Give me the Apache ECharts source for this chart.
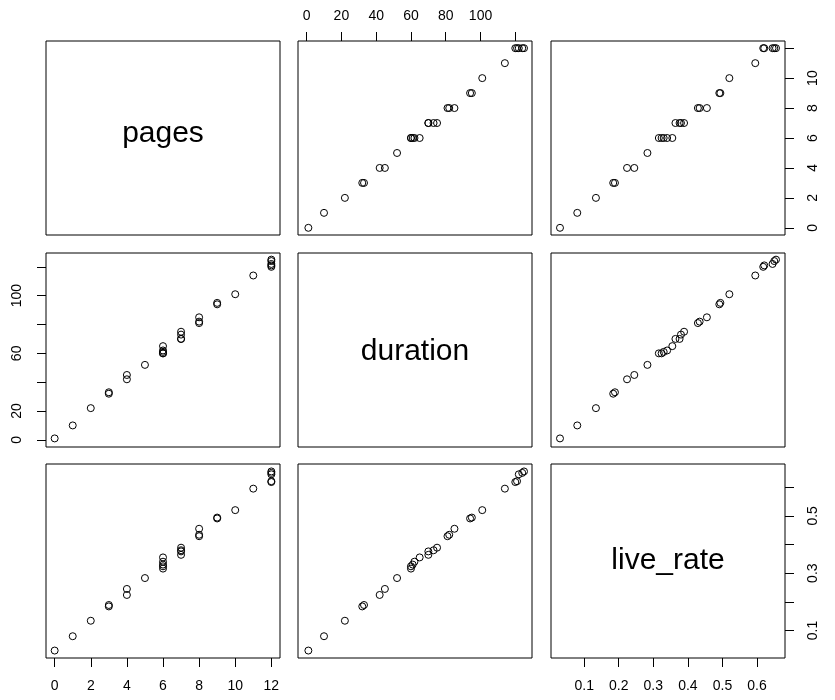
<!DOCTYPE html>
<html><head><meta charset="utf-8">
<script src="https://cdn.jsdelivr.net/npm/echarts@6/dist/echarts.min.js"></script>
<style>html,body{margin:0;padding:0;background:#fff}#c{width:835px;height:700px}</style>
</head><body><div id="c"></div>
<script>
// ---- data ----
const varNames = ['pages', 'duration', 'live_rate'];
const pages    = [0, 1, 2, 3, 3, 4, 4, 5, 6, 6, 6, 6, 6, 7, 7, 7, 7, 8, 8, 8, 9, 9, 10, 11, 12, 12, 12, 12, 12];
const duration = [1, 10, 22, 32, 33, 42, 45, 52, 60, 60, 61, 62, 65, 70, 70, 73, 75, 81, 82, 85, 94, 95, 101, 114, 120, 121, 122, 124, 125];
const liveRate = [0.030, 0.080, 0.134, 0.184, 0.189, 0.224, 0.245, 0.283, 0.316, 0.324, 0.330, 0.340, 0.355, 0.364, 0.376, 0.380, 0.389, 0.429, 0.434, 0.455, 0.491, 0.494, 0.520, 0.595, 0.618, 0.621, 0.645, 0.650, 0.655];

// tick values / tick labels
const pagesTicks = [0, 2, 4, 6, 8, 10, 12];
const durationTicks = [0, 20, 40, 60, 80, 100, 120];
const liveTicks = [0.1, 0.2, 0.3, 0.4, 0.5, 0.6];
const pagesBottomLabels = [0, 2, 4, 6, 8, 10, 12];
const pagesRightLabels = [0, 2, 4, 6, 8, 10];
const durationTopLabels = [0, 20, 40, 60, 80, 100];
const durationLeftLabels = [0, 20, 60, 100];
const liveBottomLabels = [0.1, 0.2, 0.3, 0.4, 0.5, 0.6];
const liveRightLabels = [0.1, 0.3, 0.5];

// ---- layout ----
const vars = [pages, duration, liveRate];
const ticks = [pagesTicks, durationTicks, liveTicks];
const ranges = [[-0.48, 12.48], [-4.96, 129.6], [0.004, 0.681]];
const gLeft = [46, 298, 551], gTop = [41, 253, 464], gW = 234, gH = 194;
const FONT = "'Liberation Sans', Arial, Helvetica, sans-serif";
const diagOffset = [-4.3, 1.8, -0.5];

const grids = [], xAxes = [], yAxes = [], series = [], graphics = [];
function axisCfg(gi, range, pos, tickV, labelV, isY, margin) {
  const shown = !!pos;
  const a = {
    gridIndex: gi, type: 'value', min: range[0], max: range[1],
    splitLine: { show: false },
    axisLine: { show: false, onZero: false },
    axisTick: { show: shown, length: 9, lineStyle: { color: '#000', width: 1 }, customValues: tickV },
    axisLabel: {
      show: shown, customValues: labelV || [], color: '#000', fontSize: 14, fontFamily: FONT,
      margin: margin || 0, rotate: isY ? 90 : 0, formatter: v => String(v)
    }
  };
  if (pos) a.position = pos;
  return a;
}
for (let i = 0; i < 3; i++) {
  for (let j = 0; j < 3; j++) {
    const k = i * 3 + j;
    grids.push({ left: gLeft[j], top: gTop[i], width: gW, height: gH, show: true,
      borderColor: '#000', borderWidth: 1, backgroundColor: 'transparent' });
    let xPos = null, xLab = null, xm = 0;
    if (i === 2 && j === 0) { xPos = 'bottom'; xLab = pagesBottomLabels; xm = 21; }
    if (i === 2 && j === 2) { xPos = 'bottom'; xLab = liveBottomLabels; xm = 21; }
    if (i === 0 && j === 1) { xPos = 'top'; xLab = durationTopLabels; xm = 18; }
    xAxes.push(axisCfg(k, ranges[j], xPos, ticks[j], xLab, false, xm));
    let yPos = null, yLab = null, ym = 0;
    if (j === 0 && i === 1) { yPos = 'left'; yLab = durationLeftLabels; ym = 22; }
    if (j === 2 && i === 0) { yPos = 'right'; yLab = pagesRightLabels; ym = 21; }
    if (j === 2 && i === 2) { yPos = 'right'; yLab = liveRightLabels; ym = 21; }
    yAxes.push(axisCfg(k, ranges[i], yPos, ticks[i], yLab, true, ym));
    if (i === j) {
      graphics.push({ type: 'text', x: gLeft[j] + gW / 2, y: gTop[i] + gH / 2 + diagOffset[i],
        style: { text: varNames[i], fill: '#000', font: '30px ' + FONT, textAlign: 'center', textVerticalAlign: 'middle' } });
    } else {
      series.push({ type: 'scatter', xAxisIndex: k, yAxisIndex: k,
        data: vars[j].map((v, n) => [v, vars[i][n]]),
        symbol: 'circle', symbolSize: 7,
        itemStyle: { color: 'rgba(0,0,0,0)', borderColor: '#000', borderWidth: 1, opacity: 1 },
        emphasis: { disabled: true }, silent: true });
    }
  }
}
const chart = echarts.init(document.getElementById('c'), null, { renderer: 'canvas' });
chart.setOption({ animation: false, backgroundColor: '#fff', grid: grids, xAxis: xAxes, yAxis: yAxes, series, graphic: graphics });
</script></body></html>
